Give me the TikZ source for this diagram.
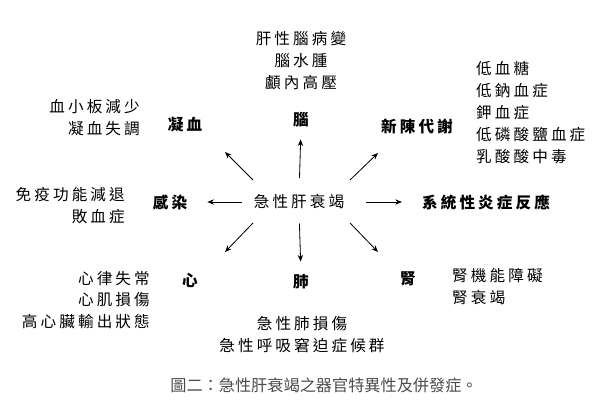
\documentclass[tikz,border=0pt]{standalone}
\usepackage{fontspec}
\setmainfont{Noto Sans CJK TC}[LetterSpace=20]
\newfontfamily\capfont{Noto Sans CJK TC}
\usetikzlibrary{arrows.meta}

\begin{document}
\begin{tikzpicture}[x=0.03cm, y=-0.03cm, every node/.style={inner sep=0pt, font=\fontsize{13.3}{18.7}\selectfont}, >={Stealth[length=2mm, width=1.6mm]}, organ/.style={font=\fontsize{13.3}{18.7}\selectfont\bfseries}, arr/.style={->, line width=0.7pt}]
	\useasboundingbox (0,0) rectangle (596,418);
	% centre and organs
	\node (ctr) at (299,202) {急性肝衰竭};
	\node[organ] (brain) at (301,120) {腦};
	\node[organ] (clot) at (185,125) {凝血};
	\node[organ] (metab) at (417,126) {新陳代謝};
	\node[organ] (infect) at (170,202) {感染};
	\node[organ] (sirs) at (486,202) {系統性炎症反應};
	\node[organ] (heart) at (190,280) {心};
	\node[organ] (lung) at (301,282) {肺};
	\node[organ] (kidney) at (408,279) {腎};
	% complications
	\node[align=center] (brainlist) at (301,60.5) {肝性腦病變\\腦水腫\\顱內高壓};
	\node[align=right, anchor=east] (clotlist) at (140,117.5) {血小板減少\\凝血失調};
	\node[align=left, anchor=west] (metablist) at (476,112.5) {低血糖\\低鈉血症\\鉀血症\\低磷酸鹽血症\\乳酸酸中毒};
	\node[align=right, anchor=east] (inflist) at (125,205.5) {免疫功能減退\\敗血症};
	\node[align=right, anchor=east] (heartlist) at (150,300) {心律失常\\心肌損傷\\高心臟輸出狀態};
	\node[align=center] (lunglist) at (302,335) {急性肺損傷\\急性呼吸窘迫症候群};
	\node[align=left, anchor=west] (kidneylist) at (452,287) {腎機能障礙\\腎衰竭};
	% arrows
	\coordinate (nw0) at (253,180); \coordinate (nw1) at (225,152);
	\coordinate (ne0) at (350,180); \coordinate (ne1) at (378,153);
	\coordinate (sw0) at (253,223); \coordinate (sw1) at (225,252);
	\coordinate (se0) at (350,223); \coordinate (se1) at (378,252);
	\draw[arr, shorten <=14, shorten >=10] (ctr.north) -- (brain.south);
	\draw[arr, shorten <=10, shorten >=17] (ctr.west) -- (infect.east);
	\draw[arr, shorten <=18, shorten >=17] (ctr.east) -- (sirs.west);
	\draw[arr, shorten <=12, shorten >=11] (ctr.south) -- (lung.north);
	\draw[arr] (nw0) -- (nw1);
	\draw[arr] (ne0) -- (ne1);
	\draw[arr] (sw0) -- (sw1);
	\draw[arr] (se0) -- (se1);
	% caption
	\node[font=\capfont\fontsize{13.8}{16}\selectfont, text=black!70] (cap) at (324,385) {圖二：急性肝衰竭之器官特異性及併發症。};
\end{tikzpicture}
\end{document}
